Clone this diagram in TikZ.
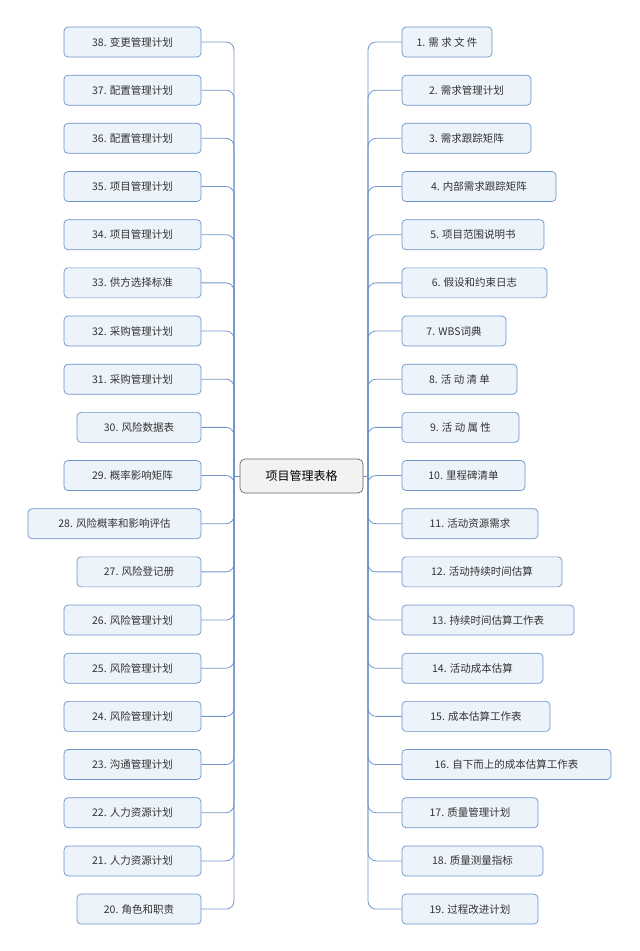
\documentclass[tikz,border=0pt]{standalone}
\usepackage{fontspec}
\setmainfont{Noto Sans CJK SC}
\definecolor{bd}{HTML}{6A93C8}
\definecolor{fl}{HTML}{EDF3FB}
\definecolor{ln}{HTML}{6E95C6}
\begin{document}
\begin{tikzpicture}[x=1pt,y=-1pt,
 leaf/.style={draw=bd,fill=fl,rounded corners=4pt,minimum height=30pt,inner sep=0pt,font=\fontsize{10.5}{12}\selectfont,text=black!80,line width=0.7pt},
 conn/.style={draw=ln,line width=0.8pt}]
\useasboundingbox (0,0) rectangle (640,951);
\node[draw=black!60,fill=black!5,rounded corners=5pt,minimum width=123pt,minimum height=34pt,font=\fontsize{12}{14}\selectfont,line width=0.7pt] (c) at (301.5,476) {项目管理表格};
\coordinate (rj) at (368,476);
\coordinate (lj) at (234,476);
\draw[conn] (c.east)--(rj);
\draw[conn] (c.west)--(lj);
\foreach \i/\w/\t in {1/90/1. 需 求 文 件,2/129/2. 需求管理计划,3/129/3. 需求跟踪矩阵,4/154/4. 内部需求跟踪矩阵,5/142/5. 项目范围说明书,6/145/6. 假设和约束日志,7/104/7. WBS词典,8/115/8. 活 动 清 单,9/117/9. 活 动 属 性,10/123/10. 里程碑清单,11/136/11. 活动资源需求,12/160/12. 活动持续时间估算,13/172/13. 持续时间估算工作表,14/141/14. 活动成本估算,15/148/15. 成本估算工作表,16/209/16. 自下而上的成本估算工作表,17/136/17. 质量管理计划,18/141/18. 质量测量指标,19/136/19. 过程改进计划}{
 \pgfmathsetmacro\yy{42+(\i-1)*48.17}
 \node[leaf,minimum width=\w pt] (r\i) at ({402+\w/2},\yy) {\t};
 \draw[conn,rounded corners=8pt] (rj) |- (r\i.west);
}
\foreach \i/\w/\t in {38/137/38. 变更管理计划,37/137/37. 配置管理计划,36/137/36. 配置管理计划,35/137/35. 项目管理计划,34/137/34. 项目管理计划,33/137/33. 供方选择标准,32/137/32. 采购管理计划,31/137/31. 采购管理计划,30/124/30. 风险数据表,29/137/29. 概率影响矩阵,28/173/28. 风险概率和影响评估,27/124/27. 风险登记册,26/137/26. 风险管理计划,25/137/25. 风险管理计划,24/137/24. 风险管理计划,23/137/23. 沟通管理计划,22/137/22. 人力资源计划,21/137/21. 人力资源计划,20/124/20. 角色和职责}{
 \pgfmathsetmacro\yy{42+(38-\i)*48.17}
 \node[leaf,minimum width=\w pt] (l\i) at ({201-\w/2},\yy) {\t};
 \draw[conn,rounded corners=8pt] (lj) |- (l\i.east);
}
\end{tikzpicture}
\end{document}
